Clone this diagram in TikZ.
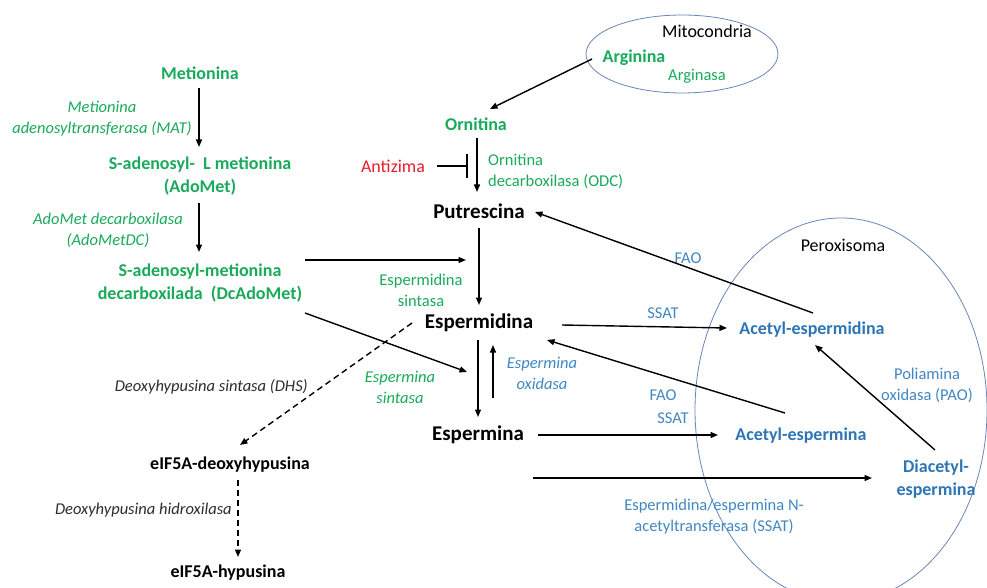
\documentclass[tikz,border=0pt]{standalone}
\usepackage{fontspec}
\setmainfont{Carlito}
\usetikzlibrary{arrows.meta,calc,shapes.geometric}
\definecolor{grn}{RGB}{25,170,90}
\definecolor{blu}{RGB}{46,117,182}
\definecolor{blul}{RGB}{65,135,195}
\definecolor{redt}{RGB}{228,32,48}
\definecolor{ellc}{RGB}{105,135,185}
\definecolor{dgray}{RGB}{45,45,45}
\newcommand\fR{\fontsize{16.5}{21}\selectfont}
\newcommand\fM{\fontsize{18}{22.5}\selectfont}
\newcommand\fL{\fontsize{21}{25}\selectfont}
\begin{document}
\begin{tikzpicture}[x=1pt,y=-1pt,
  every node/.style={inner sep=0pt,align=center},
  gbold/.style={font=\fM\bfseries,text=grn},
  greg/.style={font=\fR,text=grn},
  gital/.style={font=\fR\itshape,text=grn},
  kbig/.style={font=\fL\bfseries,text=black},
  kbold/.style={font=\fM\bfseries,text=black},
  kreg/.style={font=\fM,text=black},
  kital/.style={font=\fR\itshape,text=dgray},
  bbold/.style={font=\fM\bfseries,text=blu},
  breg/.style={font=\fR,text=blul},
  bital/.style={font=\fR\itshape,text=blul},
  rreg/.style={font=\fM,text=redt},
  arr/.style={-{Triangle[length=7.5pt,width=6pt]},line width=1.4pt,black},
  dasharr/.style={arr,dash pattern=on 6pt off 4pt},
  plain/.style={line width=1.4pt,black},
  organelle/.style={draw=ellc,line width=0.8pt,ellipse}]
\useasboundingbox (0,0) rectangle (987,588);
\fill[white] (0,0) rectangle (987,588);

% organelles
\begin{scope}
\clip (0,0) rectangle (987,588);
\node[organelle,minimum width=192pt,minimum height=78pt] (mito) at (682,54) {};
\node[organelle,minimum width=292pt,minimum height=384pt] (perox) at (841,410) {};
\end{scope}
\node[kreg] (mitotxt) at (707,31) {Mitocondria};
\node[kreg] (perotxt) at (843,245) {Peroxisoma};

% methionine branch
\node[gbold] (met) at (200,73) {Metionina};
\node[gital] (mat) at (102,119) {Metionina\\adenosyltransferasa (MAT)};
\node[gbold] (sam) at (200,176) {S-adenosyl-\ \ L metionina\\(AdoMet)};
\node[gital] (adomdc) at (108,230) {AdoMet decarboxilasa\\(AdoMetDC)};
\node[gbold] (dcado) at (200,283) {S-adenosyl-metionina\\decarboxilada\ \ (DcAdoMet)};

% ornithine branch
\node[gbold] (arg) at (634,58) {Arginina};
\node[greg] (argasa) at (697,76) {Arginasa};
\node[gbold] (orn) at (476,124) {Ornitina};
\node[rreg] (anti) at (393,166) {Antizima};
\node[greg,align=left,anchor=west] (odc) at (488,171) {Ornitina\\decarboxilasa (ODC)};
\node[kbig] (put) at (479,211) {Putrescina};
\node[greg] (espsint) at (421,290) {Espermidina\\sintasa};
\node[kbig] (spd) at (479,323) {Espermidina};
\node[bital] (spmox) at (542,373) {Espermina\\oxidasa};
\node[gital] (spmsint) at (400,387) {Espermina\\sintasa};
\node[kbig] (spm) at (478,435) {Espermina};

% acetyl derivatives
\node[bbold] (acspd) at (812,330) {Acetyl-espermidina};
\node[bbold] (acspm) at (801,436) {Acetyl-espermina};
\node[bbold] (diac) at (936,479) {Diacetyl-\\espermina};
\node[breg] (pao) at (927,385) {Poliamina\\oxidasa (PAO)};
\node[breg] (ssatlong) at (714,517) {Espermidina/espermina N-\\acetyltransferasa (SSAT)};
\node[breg] (fao1) at (688,258) {FAO};
\node[breg] (ssat1) at (663,313) {SSAT};
\node[breg] (fao2) at (663,395) {FAO};
\node[breg] (ssat2) at (673,418) {SSAT};

% hypusine branch
\node[kital,anchor=east] (dhs) at (308,387) {Deoxyhypusina sintasa (DHS)};
\node[kbold] (eif1) at (230,465) {eIF5A-deoxyhypusina};
\node[kital,anchor=east] (dhh) at (232,510) {Deoxyhypusina hidroxilasa};
\node[kbold] (eif2) at (228,573) {eIF5A-hypusina};

% free ends
\coordinate (c1) at (466,260);
\coordinate (c2) at (467,372);
\coordinate (c3) at (533,478);
\coordinate (inh) at (467,166);

% connectors
\draw[arr] ($(met)+(-1,15)$) -- ($(sam)+(-1,-29)$);
\draw[arr] ($(sam)+(-1,27)$) -- ($(dcado)+(-1,-31)$);
\draw[arr] ($(dcado)+(105,-23)$) -- (c1);
\draw[arr] ($(dcado)+(105,30)$) -- (c2);
\draw[arr] ($(arg)+(-42,1)$) -- ($(orn)+(14,-15)$);
\draw[arr] ($(orn)+(1,14)$) -- ($(put)+(-2,-19)$);
\draw[plain] ($(anti)+(44,0)$) -- (inh);
\draw[plain] ($(inh)+(0,-12)$) -- ($(inh)+(0,12)$);
\draw[arr] ($(put)+(0,17)$) -- ($(spd)+(0,-18)$);
\draw[arr] ($(spd)+(-1,17)$) -- ($(spm)+(0,-18)$);
\draw[arr] ($(spm)+(15,-37)$) -- ($(spd)+(14,22)$);
\draw[arr] ($(acspd)+(1,-17)$) -- ($(put)+(56,1)$);
\draw[arr] ($(spd)+(83,2)$) -- ($(acspd)+(-85,-2)$);
\draw[arr] ($(acspm)+(-16,-23)$) -- ($(spd)+(68,17)$);
\draw[arr] ($(spm)+(60,0)$) -- ($(acspm)+(-83,-1)$);
\draw[arr] (c3) -- ($(diac)+(-64,-1)$);
\draw[arr] ($(diac)+(-1,-29)$) -- ($(acspd)+(3,15)$);
\draw[dasharr] ($(spd)+(-67,0)$) -- ($(eif1)+(10,-20)$);
\draw[dasharr] ($(eif1)+(8,15)$) -- ($(eif2)+(10,-16)$);
\end{tikzpicture}
\end{document}
